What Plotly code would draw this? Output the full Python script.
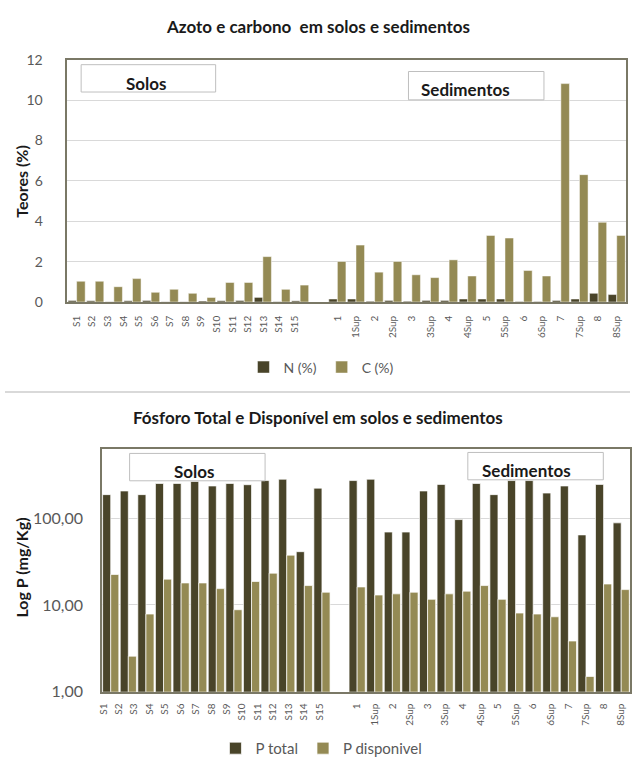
import numpy as np
import plotly.graph_objects as go

# ---------------- data ----------------
soil_labels = ["S1", "S2", "S3", "S4", "S5", "S6", "S7", "S8", "S9", "S10",
               "S11", "S12", "S13", "S14", "S15"]
sed_labels = ["1", "1Sup", "2", "2Sup", "3", "3Sup", "4", "4Sup",
              "5", "5Sup", "6", "6Sup", "7", "7Sup", "8", "8Sup"]

# Azoto / carbono (%), soils (bars drawn) and sediments
N_soils = [0.07, 0.06, 0.02, 0.06, 0.07, 0.02, 0.02, 0.05, 0.06, 0.07, 0.23, 0.02, 0.06]
C_soils = [1.03, 1.03, 0.76, 1.16, 0.48, 0.63, 0.43, 0.23, 0.97, 0.97, 2.25, 0.63, 0.84]
N_sed = [0.15, 0.15, 0.04, 0.08, 0.04, 0.08, 0.08, 0.15, 0.15, 0.15, 0.03, 0.03, 0.08, 0.15, 0.43, 0.37]
C_sed = [2.01, 2.82, 1.48, 2.01, 1.35, 1.21, 2.09, 1.29, 3.30, 3.17, 1.56, 1.29, 10.82, 6.31, 3.95, 3.30]

# Fosforo (mg/Kg)
Ptot_soils = [186, 205, 186, 250, 250, 264, 234, 250, 242, 270, 280, 41, 221]
Pdisp_soils = [22.4, 2.57, 7.85, 19.8, 17.9, 17.9, 15.4, 8.8, 18.6, 23.2, 37.4, 16.7, 14.0]
Ptot_sed = [270, 280, 69, 69, 205, 244, 96, 250, 186, 270, 270, 194, 234, 64, 244, 88]
Pdisp_sed = [16.1, 13.0, 13.4, 14.0, 11.6, 13.4, 14.4, 16.7, 11.6, 8.06, 7.85, 7.3, 3.84, 1.5, 17.4, 15.0]

y1_ticks = [0, 2, 4, 6, 8, 10, 12]
y2_ticks = [1, 10, 100]

# ---------------- positions (category index) ----------------
n_soil = len(C_soils)
soil_x = np.arange(n_soil)
sed_x = n_soil + 1 + np.arange(len(sed_labels))
n_cat = int(sed_x[-1]) + 1

W, H = 632, 775
DARK = "#494429"
OLIVE = "#948A54"
GRAY_TXT = "#595959"
FRAME = "#7a7866"
FONT = "Lato"
BLACK = "#1a1a1a"


def px(x):
    return x / W


def py(y):
    return 1 - y / H


fig = go.Figure()

all_x = np.concatenate([soil_x, sed_x])
# top chart
fig.add_trace(go.Bar(x=all_x, y=N_soils + N_sed, name="N (%)",
                     marker=dict(color=DARK, line=dict(color="white", width=0.5)),
                     xaxis="x", yaxis="y", legend="legend"))
fig.add_trace(go.Bar(x=all_x, y=C_soils + C_sed, name="C (%)",
                     marker=dict(color=OLIVE, line=dict(color="white", width=0.5)),
                     xaxis="x", yaxis="y", legend="legend"))
# bottom chart
fig.add_trace(go.Bar(x=all_x, y=Ptot_soils + Ptot_sed, name="P total",
                     marker=dict(color=DARK, line=dict(color="white", width=0.7)),
                     xaxis="x2", yaxis="y2", legend="legend2"))
fig.add_trace(go.Bar(x=all_x, y=Pdisp_soils + Pdisp_sed, name="P disponivel",
                     marker=dict(color=OLIVE, line=dict(color="white", width=0.7)),
                     xaxis="x2", yaxis="y2", legend="legend2"))

top_soil_ticks = np.linspace(0.0, 11.7, len(soil_labels))
bot_soil_ticks = np.linspace(-0.42, 11.85, len(soil_labels))

xcommon = dict(type="linear", range=[-0.5, n_cat - 0.5], showgrid=False, zeroline=False,
               showline=True, linecolor=FRAME, linewidth=1.5, mirror=True,
               tickmode="array", tickangle=-90, ticks="", ticklabeloverflow="allow",
               tickfont=dict(family=FONT, size=10, color=GRAY_TXT))

fig.update_layout(
    width=W, height=H, margin=dict(l=0, r=0, t=0, b=0),
    paper_bgcolor="white", plot_bgcolor="white",
    barmode="group", bargap=0.08, bargroupgap=0,
    separators=",.",
    font=dict(family=FONT, color=GRAY_TXT),
    xaxis=dict(xcommon, domain=[px(63), px(628)], anchor="y", ticklabelstandoff=8,
               tickvals=list(top_soil_ticks) + list(sed_x), ticktext=soil_labels + sed_labels),
    yaxis=dict(domain=[py(300), py(52)], anchor="x", range=[0, 12], tickvals=y1_ticks,
               showgrid=True, gridcolor="#d9d9d9", gridwidth=1, zeroline=False,
               showline=True, linecolor=FRAME, linewidth=1.5, mirror=True,
               ticks="", ticklabelstandoff=20,
               tickfont=dict(family=FONT, size=14, color=GRAY_TXT)),
    xaxis2=dict(xcommon, domain=[px(98), 1.0], anchor="y2", ticklabelstandoff=6,
                tickvals=list(bot_soil_ticks) + list(sed_x), ticktext=soil_labels + sed_labels),
    yaxis2=dict(domain=[py(699), py(450)], anchor="x2", type="log", range=[0, 2.8],
                tickvals=y2_ticks, tickformat=".2f",
                showgrid=True, gridcolor="#d9d9d9", gridwidth=1, zeroline=False,
                showline=True, linecolor=FRAME, linewidth=1.5, mirror=True,
                ticks="", ticklabelstandoff=14,
                tickfont=dict(family=FONT, size=16, color=GRAY_TXT)),
    legend=dict(orientation="h", x=px(320), xanchor="center", y=py(367), yanchor="middle",
                font=dict(family=FONT, size=14, color=GRAY_TXT), itemwidth=30,
                bgcolor="rgba(0,0,0,0)"),
    legend2=dict(orientation="h", x=px(320), xanchor="center", y=py(757), yanchor="middle",
                 font=dict(family=FONT, size=15, color=GRAY_TXT), itemwidth=30,
                 bgcolor="rgba(0,0,0,0)"),
    showlegend=True,
)

annotations = [
    dict(text="<b>Azoto e carbono  em solos e sedimentos</b>", x=px(316), y=py(18),
         font=dict(size=17, color=BLACK)),
    dict(text="<b>Fósforo Total e Disponível em solos e sedimentos</b>", x=px(316), y=py(418),
         font=dict(size=17, color=BLACK)),
    dict(text="<b>Teores (%)</b>", x=px(17), y=py(176), textangle=-90,
         font=dict(size=16, color=BLACK)),
    dict(text="<b>Log P (mg/Kg)</b>", x=px(17), y=py(572), textangle=-90,
         font=dict(size=16, color=BLACK)),
    dict(text="<b>Solos</b>", x=px(143), y=py(76), font=dict(size=17, color=BLACK)),
    dict(text="<b>Sedimentos</b>", x=px(466), y=py(82), font=dict(size=17, color=BLACK)),
    dict(text="<b>Solos</b>", x=px(192), y=py(473), font=dict(size=17, color=BLACK)),
    dict(text="<b>Sedimentos</b>", x=px(527), y=py(472), font=dict(size=17, color=BLACK)),
]
for a in annotations:
    a.update(xref="paper", yref="paper", showarrow=False, xanchor="center", yanchor="middle")
    a["font"]["family"] = FONT
fig.update_layout(annotations=annotations)

boxes = [(77, 57, 213, 85), (408, 64, 545, 93), (126, 455, 263, 483), (468, 454, 605, 482)]
shapes = []
for x0, y0, x1, y1 in boxes:
    shapes.append(dict(type="rect", xref="paper", yref="paper", x0=px(x0), x1=px(x1),
                       y0=py(y1), y1=py(y0), fillcolor="white",
                       line=dict(color="#bfbfbf", width=1), layer="above"))
shapes.append(dict(type="line", xref="paper", yref="paper", x0=0, x1=1, y0=py(392), y1=py(392),
                   line=dict(color="#d9d9d9", width=2)))
fig.update_layout(shapes=shapes)

fig.write_html("out.html", config={"displayModeBar": False},
               post_script="document.body.style.margin='0';document.body.style.overflow='hidden';")
